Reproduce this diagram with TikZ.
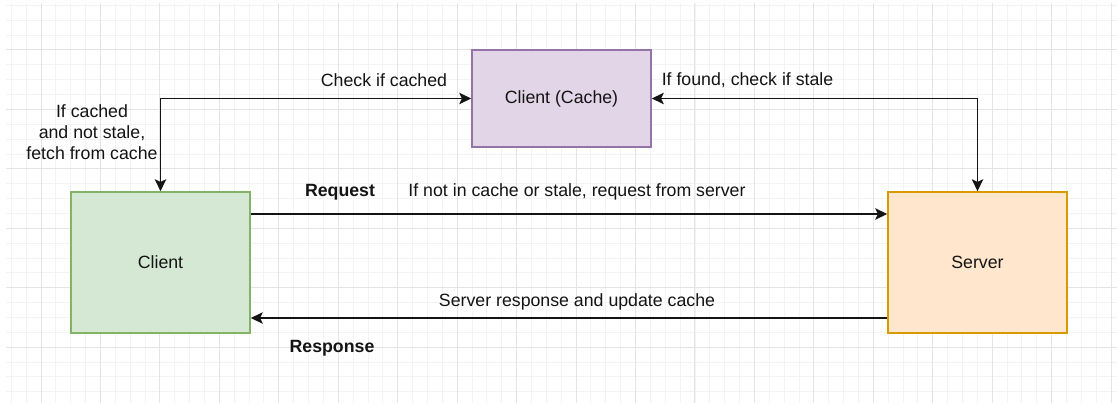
\documentclass[tikz,border=0pt]{standalone}
\usepackage{fontspec}
\setmainfont{Liberation Sans}
\usetikzlibrary{arrows.meta}
\definecolor{gridminor}{HTML}{F3F3F3}
\definecolor{gridmajor}{HTML}{E4E4E4}
\definecolor{cachefill}{HTML}{E1D5E7}
\definecolor{cachedraw}{HTML}{9673A6}
\definecolor{clientfill}{HTML}{D5E8D4}
\definecolor{clientdraw}{HTML}{82B366}
\definecolor{serverfill}{HTML}{FFE6CC}
\definecolor{serverdraw}{HTML}{D79B00}
\definecolor{ink}{HTML}{141414}
\tikzset{tip/.tip={Stealth[length=9pt,width=8.5pt,inset=2pt]}}
\begin{document}
\begin{tikzpicture}[x=0.75pt,y=-0.75pt,
  box/.style={rectangle, line width=1.1pt, minimum width=134.25pt, font=\fontsize{13.3}{16}\selectfont, text=ink},
  flow/.style={line width=1.25pt, draw=ink, -tip},
  biflow/.style={line width=1.25pt, draw=ink, tip-tip},
  lbl/.style={font=\fontsize{13.3}{16}\selectfont, text=ink, inner sep=0pt},
  boldlbl/.style={lbl, font=\fontsize{13.3}{16}\selectfont\bfseries}]
  % canvas and background grid
  \useasboundingbox (0,0) rectangle (1117,403);
  \fill[white] (0,0) rectangle (1117,403);
  \foreach \i in {0,...,74} {
    \draw[gridminor, line width=0.75pt] ({11.3+14.863*\i},3) -- ({11.3+14.863*\i},403);
  }
  \foreach \j in {0,...,26} {
    \draw[gridminor, line width=0.75pt] (6,{5.4+14.863*\j}) -- (1117,{5.4+14.863*\j});
  }
  \foreach \i in {0,...,18} {
    \draw[gridmajor, line width=0.75pt] ({41+59.45*\i},3) -- ({41+59.45*\i},403);
  }
  \foreach \j in {0,...,5} {
    \draw[gridmajor, line width=0.75pt] (6,{50+59.45*\j}) -- (1117,{50+59.45*\j});
  }

  % boxes
  \node[box, fill=cachefill, draw=cachedraw, minimum height=72.75pt] (cache) at (561.5,98.5) {Client (Cache)};
  \node[box, fill=clientfill, draw=clientdraw, minimum height=105.75pt] (client) at (160.5,262.5) {Client};
  \node[box, fill=serverfill, draw=serverdraw, minimum height=105.75pt] (server) at (977.5,262.5) {Server};

  % cache lookups
  \draw[biflow] (client.north) |- (cache.west);
  \draw[biflow] (cache.east) -| (server.north);

  % request / response
  \draw[flow] (client.east |- 0,214) -- (server.west |- 0,214);
  \draw[flow] (server.west |- 0,318) -- (client.east |- 0,318);

  % labels
  \node[lbl] (tcheck) at (384,80) {Check if cached};
  \node[lbl] (tfound) at (747.5,80) {If found, check if stale};
  \node[lbl, align=center] (tfetch) at (92,132) {If cached\\and not stale,\\fetch from cache};
  \node[boldlbl] (treq) at (340,192) {Request};
  \node[lbl] (treqtxt) at (577,192) {If not in cache or stale, request from server};
  \node[lbl] (tresptxt) at (577,302) {Server response and update cache};
  \node[boldlbl] (tresp) at (332,348) {Response};
\end{tikzpicture}
\end{document}
